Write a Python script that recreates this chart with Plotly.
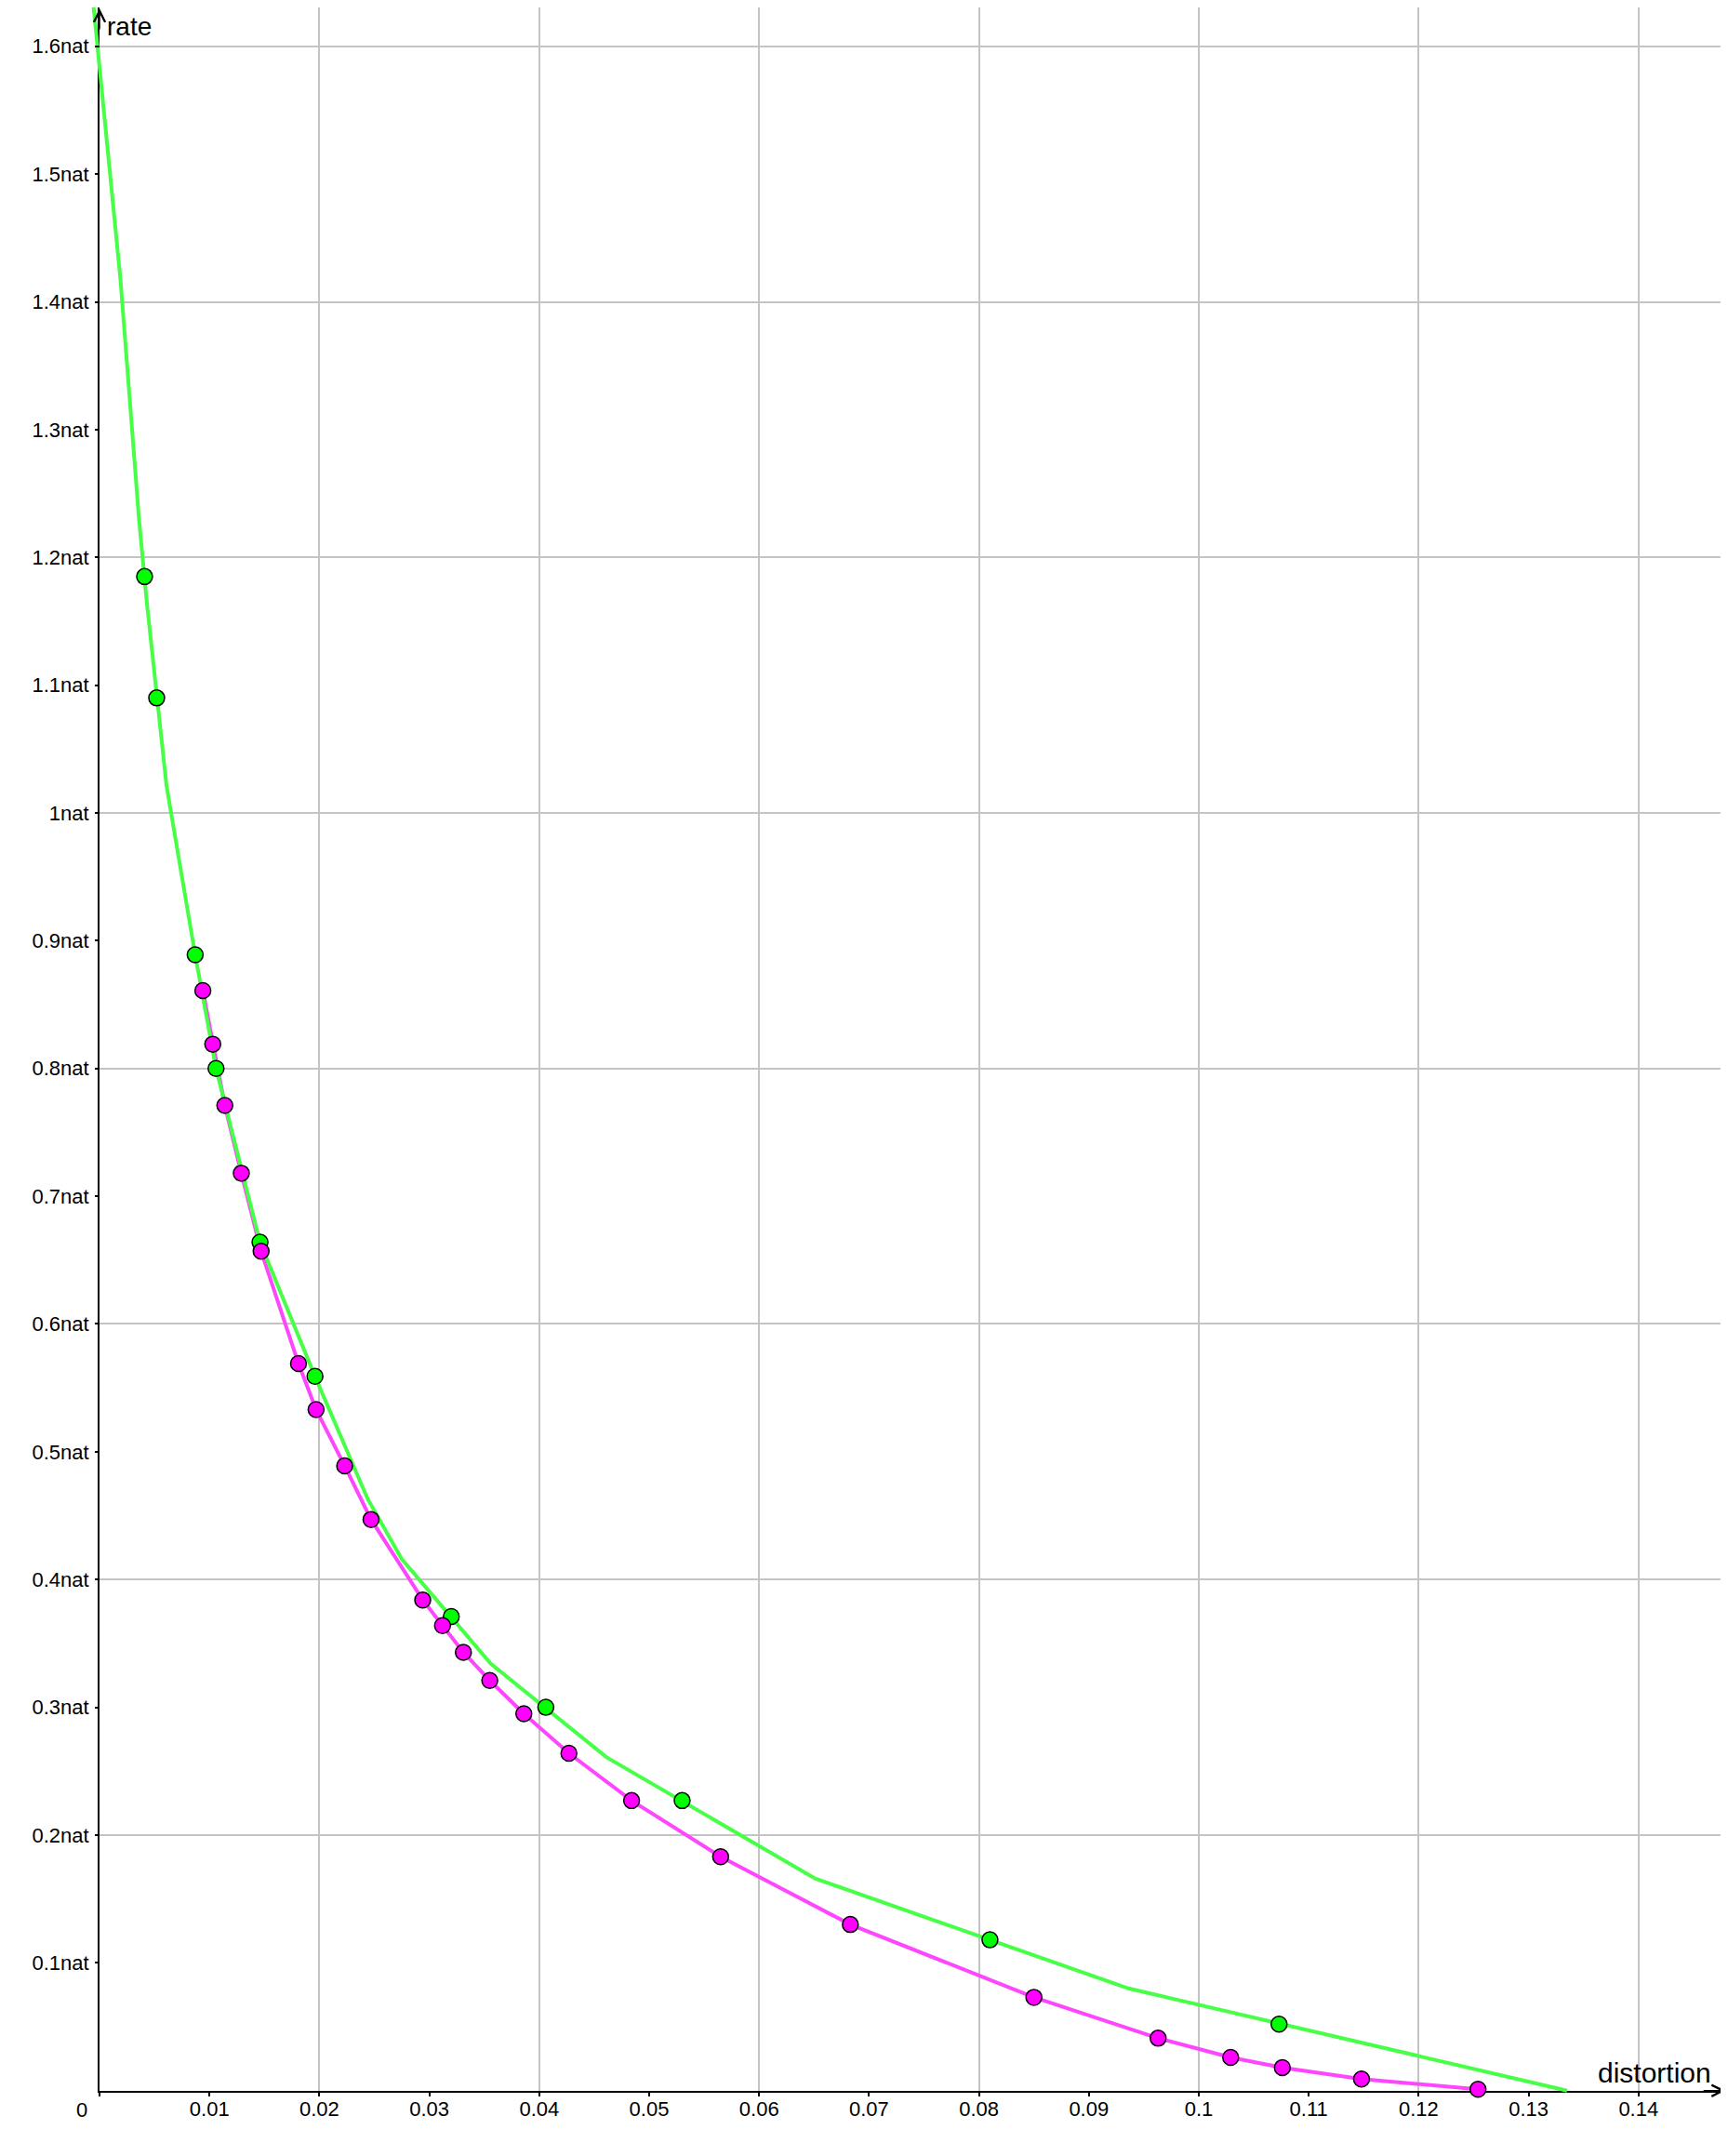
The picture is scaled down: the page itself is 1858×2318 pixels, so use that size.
import plotly.graph_objects as go

# page body has an 8px margin, so the figure is 8px smaller and the window is offset
OFF = 8
W, H = 1858 - OFF, 2318 - OFF

# axis window (data units)
X_MIN, X_MAX = -0.008376, 0.14814
Y_MIN, Y_MAX = -0.05118, 1.63042

x_tickvals = [0.01, 0.02, 0.03, 0.04, 0.05, 0.06, 0.07, 0.08, 0.09, 0.1, 0.11, 0.12, 0.13, 0.14]
x_ticktext = ["0.01", "0.02", "0.03", "0.04", "0.05", "0.06", "0.07", "0.08", "0.09", "0.1",
              "0.11", "0.12", "0.13", "0.14"]
y_tickvals = [0.1, 0.2, 0.3, 0.4, 0.5, 0.6, 0.7, 0.8, 0.9, 1.0, 1.1, 1.2, 1.3, 1.4, 1.5, 1.6]
y_ticktext = ["0.1nat", "0.2nat", "0.3nat", "0.4nat", "0.5nat", "0.6nat", "0.7nat", "0.8nat",
              "0.9nat", "1nat", "1.1nat", "1.2nat", "1.3nat", "1.4nat", "1.5nat", "1.6nat"]

# green curve (polyline) and its sample points
green_line_x = [-0.0006, 0.0019, 0.0036, 0.0043, 0.0061, 0.0087, 0.0106, 0.0146, 0.0196,
                0.0244, 0.0275, 0.0356, 0.0461, 0.0651, 0.0936, 0.1335]
green_line_y = [1.636, 1.418, 1.229, 1.165, 1.021, 0.889, 0.800, 0.664, 0.559,
                0.463, 0.416, 0.334, 0.261, 0.166, 0.080, 0.000]
green_pts_x = [0.0041, 0.0052, 0.0087, 0.0106, 0.0146, 0.0196, 0.0320, 0.0406, 0.0530, 0.0810, 0.1073]
green_pts_y = [1.185, 1.090, 0.889, 0.800, 0.664, 0.559, 0.371, 0.300, 0.227, 0.118, 0.052]

# magenta points (line goes through them)
magenta_x = [0.0094, 0.0103, 0.0114, 0.0129, 0.0147, 0.0181, 0.0197, 0.0223, 0.0247, 0.0294,
             0.0312, 0.0331, 0.0355, 0.0386, 0.0427, 0.0484, 0.0565, 0.0683, 0.0850, 0.0963,
             0.1029, 0.1076, 0.1148, 0.1254]
magenta_y = [0.861, 0.819, 0.771, 0.718, 0.657, 0.569, 0.533, 0.489, 0.447, 0.384,
             0.364, 0.343, 0.321, 0.295, 0.264, 0.227, 0.183, 0.130, 0.073, 0.041,
             0.026, 0.018, 0.009, 0.001]

FONT = "Liberation Sans, Arial, sans-serif"

# where the origin sits in the figure (paper fraction)
fx0 = (0 - X_MIN) / (X_MAX - X_MIN)
fy0 = (0 - Y_MIN) / (Y_MAX - Y_MIN)

fig = go.Figure()

# empty trace so the grid subplot (first quadrant only) gets drawn
fig.add_trace(go.Scatter(x=[], y=[], xaxis="x", yaxis="y", showlegend=False, hoverinfo="skip"))

fig.add_trace(go.Scatter(x=magenta_x, y=magenta_y, mode="lines", xaxis="x2", yaxis="y2",
                         line=dict(color="rgb(255,70,255)", width=4), showlegend=False))
fig.add_trace(go.Scatter(x=green_line_x, y=green_line_y, mode="lines", xaxis="x2", yaxis="y2",
                         line=dict(color="rgb(70,255,70)", width=4), showlegend=False))
fig.add_trace(go.Scatter(x=green_pts_x, y=green_pts_y, mode="markers", xaxis="x2", yaxis="y2",
                         marker=dict(color="#00FF00", size=17, line=dict(color="black", width=1.5)),
                         showlegend=False, cliponaxis=False))
fig.add_trace(go.Scatter(x=magenta_x, y=magenta_y, mode="markers", xaxis="x2", yaxis="y2",
                         marker=dict(color="#FF00FF", size=17, line=dict(color="black", width=1.5)),
                         showlegend=False, cliponaxis=False))

fig.update_layout(
    width=W, height=H, autosize=False,
    margin=dict(l=0, r=0, t=0, b=0, pad=0),
    paper_bgcolor="white", plot_bgcolor="rgba(0,0,0,0)",
    font=dict(family=FONT, size=22, color="black"),
    # grid + axis lines, first quadrant only
    xaxis=dict(domain=[fx0, 1], range=[0, X_MAX], anchor="y", dtick=0.02, tick0=0,
               showgrid=True, gridcolor="rgb(196,196,196)", gridwidth=2,
               showline=True, linecolor="black", linewidth=2, zeroline=False,
               showticklabels=False, ticks=""),
    yaxis=dict(domain=[fy0, 1], range=[0, Y_MAX], anchor="x", dtick=0.2, tick0=0,
               showgrid=True, gridcolor="rgb(196,196,196)", gridwidth=2,
               showline=True, linecolor="black", linewidth=2, zeroline=False,
               showticklabels=False, ticks=""),
    # data axes spanning the whole picture, ticks at the origin
    xaxis2=dict(domain=[0, 1], range=[X_MIN, X_MAX], anchor="free", position=fy0,
                tickmode="array", tickvals=[0] + x_tickvals, ticktext=[""] + x_ticktext,
                ticks="outside", ticklen=5, tickwidth=2, tickcolor="black",
                ticklabelstandoff=-5,
                showgrid=False, zeroline=False, showline=False,
                tickfont=dict(family=FONT, size=22)),
    yaxis2=dict(domain=[0, 1], range=[Y_MIN, Y_MAX], anchor="free", position=fx0,
                tickmode="array", tickvals=y_tickvals, ticktext=y_ticktext,
                ticks="outside", ticklen=5, tickwidth=2, tickcolor="black",
                ticklabelstandoff=2,
                showgrid=False, zeroline=False, showline=False,
                tickfont=dict(family=FONT, size=22)),
    annotations=[
        dict(x=0, y=0, xref="x2", yref="y2", text="0", showarrow=False,
             xanchor="center", yanchor="top", xshift=-19, yshift=-6,
             font=dict(family=FONT, size=22)),
        dict(x=0, y=1, xref="x2", yref="paper", text="rate", showarrow=False,
             xanchor="left", yanchor="top", xshift=6, yshift=-3,
             font=dict(family=FONT, size=28)),
        dict(x=0.1468, y=0, xref="x2", yref="y2", text="distortion", showarrow=False,
             xanchor="right", yanchor="bottom", yshift=1,
             font=dict(family=FONT, size=30)),
        # axis arrow heads
        dict(x=0, y=1, xref="x2", yref="paper", ax=0, ay=25, text="", showarrow=True,
             arrowhead=5, arrowsize=1.6, arrowwidth=1.5, arrowcolor="black"),
        dict(x=0.9985, y=0, xref="paper", yref="y2", ax=-25, ay=0, text="", showarrow=True,
             arrowhead=5, arrowsize=1.6, arrowwidth=1.5, arrowcolor="black"),
    ],
)

fig.write_html("out.html")
